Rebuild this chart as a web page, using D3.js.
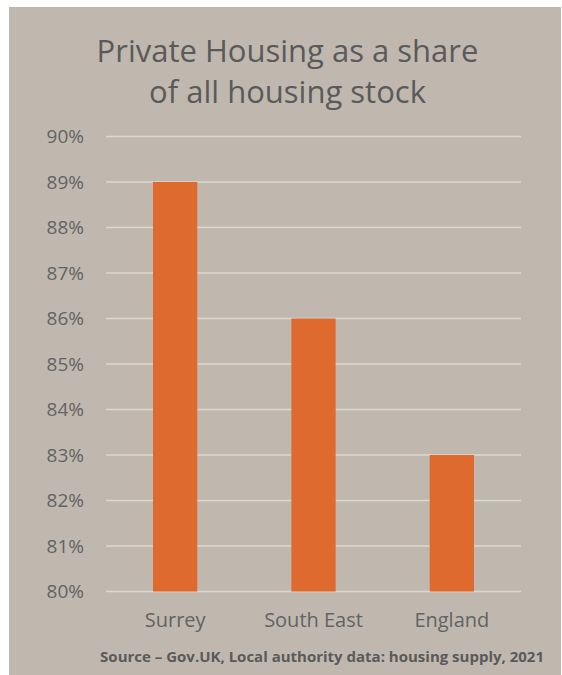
<!DOCTYPE html>
<html><head><meta charset="utf-8">
<script src="https://cdn.jsdelivr.net/npm/d3@7"></script>
<style>
html,body{margin:0;padding:0;background:#fff;}
svg{display:block;font-family:"Open Sans",sans-serif;}
</style></head>
<body>
<script>
const categories = ["Surrey", "South East", "England"];
const values = [89, 86, 83];
const yTicks = [80, 81, 82, 83, 84, 85, 86, 87, 88, 89, 90];
const titleLines = ["Private Housing as a share", "of all housing stock"];
const sourceText = "Source \u2013 Gov.UK, Local authority data: housing supply, 2021";

const W = 562, H = 675;
const svg = d3.select("body").append("svg").attr("width", W).attr("height", H);
svg.append("rect").attr("x", 9).attr("y", 7).attr("width", W - 10).attr("height", H - 7).attr("fill", "#c0b8af");

const x = d3.scaleBand().domain(categories).range([106, 521]).paddingInner(0.68).paddingOuter(0.34);
const y = d3.scaleLinear().domain([80, 90]).range([591.5, 136.5]);

// gridlines
svg.append("g").selectAll("line").data(yTicks).join("line")
  .attr("x1", 106).attr("x2", 521)
  .attr("y1", d => y(d)).attr("y2", d => y(d))
  .attr("stroke", "#dcd7d1").attr("stroke-width", 1.5);

// y axis labels
const yAxis = d3.axisLeft(y).tickValues(yTicks).tickFormat(d => d + "%").tickSize(0).tickPadding(0);
const ya = svg.append("g").attr("transform", "translate(84,0)").call(yAxis);
ya.select(".domain").remove();
ya.selectAll("text").attr("font-size", 19).attr("fill", "#636363").attr("font-family", "Open Sans");

// bars
svg.append("g").selectAll("rect").data(values).join("rect")
  .attr("x", (d, i) => x(categories[i]))
  .attr("width", x.bandwidth())
  .attr("y", d => y(d))
  .attr("height", d => y(80) - y(d))
  .attr("fill", "#de6a2e");

// x axis labels
const xAxis = d3.axisBottom(x).tickSize(0).tickPadding(0);
const xa = svg.append("g").attr("transform", "translate(0,613)").call(xAxis);
xa.select(".domain").remove();
xa.selectAll("text").attr("font-size", 20).attr("fill", "#636363").attr("font-family", "Open Sans");

// title
svg.append("g").selectAll("text").data(titleLines).join("text")
  .attr("x", 287.5).attr("y", (d, i) => 62 + i * 41)
  .attr("text-anchor", "middle")
  .attr("font-size", 31).attr("fill", "#5a5a5a")
  .text(d => d);

// source
svg.append("text").attr("x", 544).attr("y", 662)
  .attr("text-anchor", "end").attr("font-size", 15).attr("font-weight", "bold")
  .attr("fill", "#5a5a5a").text(sourceText);
</script>
</body></html>
